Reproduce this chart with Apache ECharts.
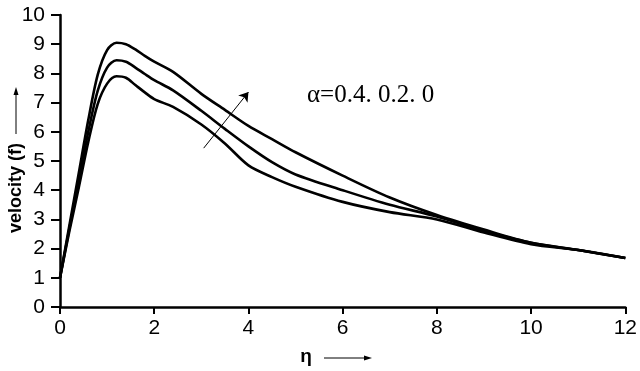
<!DOCTYPE html>
<html>
<head>
<meta charset="utf-8">
<script src="https://cdn.jsdelivr.net/npm/echarts@6/dist/echarts.min.js"></script>
<style>html,body{margin:0;padding:0;background:#fff}#c{width:640px;height:371px}</style>
</head>
<body>
<div id="c"></div>
<script>
var etaValues = [0, 0.2, 0.4, 0.6, 0.8, 1.0, 1.2, 1.4, 1.6, 1.8, 2.0, 2.4, 3.0, 3.5, 4.0, 4.5, 5.0, 6.0, 7.0, 8.0, 9.0, 10, 11, 12];
var alpha04 = [1, 2.8, 4.6, 6.4, 7.95, 8.8, 9.05, 9.0, 8.82, 8.6, 8.4, 8.05, 7.3, 6.75, 6.2, 5.75, 5.3, 4.5, 3.75, 3.15, 2.65, 2.2, 1.95, 1.68];
var alpha02 = [1, 2.7, 4.35, 6.0, 7.4, 8.2, 8.45, 8.4, 8.2, 7.98, 7.77, 7.42, 6.72, 6.1, 5.5, 4.96, 4.54, 4.0, 3.5, 3.1, 2.6, 2.2, 1.95, 1.68];
var alpha00 = [1, 2.6, 4.1, 5.65, 6.95, 7.65, 7.9, 7.85, 7.6, 7.35, 7.12, 6.85, 6.25, 5.6, 4.85, 4.45, 4.12, 3.6, 3.25, 3.0, 2.55, 2.15, 1.95, 1.68];
var xTicks = [0, 2, 4, 6, 8, 10, 12];
var yTicks = [0, 1, 2, 3, 4, 5, 6, 7, 8, 9, 10];
var arrowFrom = [3.05, 5.44];
var arrowTo = [4.0, 7.36];
var annotation = 'α=0.4. 0.2. 0';

function pairs(ys){ return etaValues.map(function(x,i){ return [x, ys[i]]; }); }

var chart = echarts.init(document.getElementById('c'), null, {renderer:'canvas'});
var lineStyle = {color:'#000', width:2.6};
var axisLineStyle = {color:'#000', width:2.5};
var tickFont = {color:'#000', fontSize:21, fontFamily:'Liberation Sans, Arial, sans-serif'};

chart.setOption({
  animation:false,
  backgroundColor:'#fff',
  grid:{left:60, right:9, top:15, bottom:64, containLabel:false},
  xAxis:{
    type:'value', min:xTicks[0], max:xTicks[xTicks.length-1], interval:2,
    axisLine:{show:true, lineStyle:axisLineStyle, onZero:false},
    axisTick:{show:true, length:7, lineStyle:{color:'#000', width:2}},
    axisLabel:Object.assign({margin:11}, tickFont),
    splitLine:{show:false}
  },
  yAxis:{
    type:'value', min:yTicks[0], max:yTicks[yTicks.length-1], interval:1,
    axisLine:{show:true, lineStyle:axisLineStyle},
    axisTick:{show:true, length:9, lineStyle:{color:'#000', width:2}},
    axisLabel:Object.assign({margin:15}, tickFont),
    splitLine:{show:false}
  },
  series:[
    {type:'line', name:'α=0.4', data:pairs(alpha04), smooth:0.3, showSymbol:false, lineStyle:lineStyle, itemStyle:{color:'#000'},
     markLine:{silent:true, symbol:['none','arrow'], symbolSize:9, label:{show:false},
       lineStyle:{color:'#000', width:1, type:'solid'},
       data:[[{coord:arrowFrom},{coord:arrowTo}]]}},
    {type:'line', name:'α=0.2', data:pairs(alpha02), smooth:0.3, showSymbol:false, lineStyle:lineStyle, itemStyle:{color:'#000'}},
    {type:'line', name:'α=0', data:pairs(alpha00), smooth:0.3, showSymbol:false, lineStyle:lineStyle, itemStyle:{color:'#000'}}
  ],
  graphic:[
    {type:'text', x:307, y:95, style:{text:annotation, font:'25px "Liberation Serif", "Times New Roman", serif', fill:'#000', align:'left', verticalAlign:'middle'}},
    {type:'text', x:16, y:188, rotation:Math.PI/2, style:{text:'velocity (f)', font:'bold 18px "Liberation Sans", Arial, sans-serif', fill:'#000', align:'center', verticalAlign:'middle'}},
    {type:'line', shape:{x1:16, y1:134, x2:16, y2:93}, style:{stroke:'#000', lineWidth:1}},
    {type:'polygon', shape:{points:[[16,87],[13.5,95],[18.5,95]]}, style:{fill:'#000'}},
    {type:'text', x:306, y:357, style:{text:'η', font:'bold 19px "Liberation Sans", Arial, sans-serif', fill:'#000', align:'center', verticalAlign:'middle'}},
    {type:'line', shape:{x1:324, y1:358, x2:366, y2:358}, style:{stroke:'#000', lineWidth:1}},
    {type:'polygon', shape:{points:[[372,358],[364,355.5],[364,360.5]]}, style:{fill:'#000'}}
  ]
});
</script>
</body>
</html>
